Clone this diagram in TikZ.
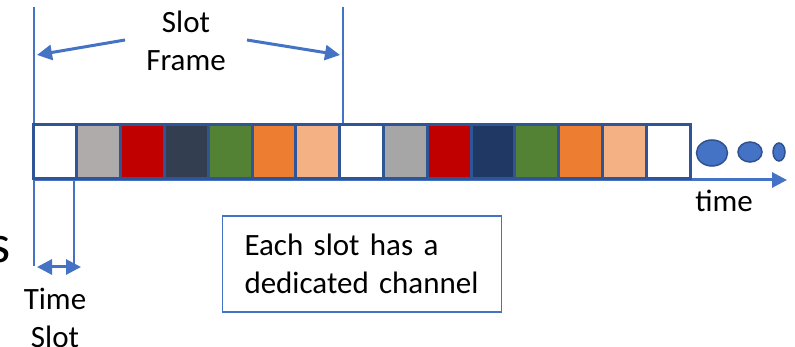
\documentclass[tikz,border=0pt]{standalone}
\usepackage{fontspec}
\setmainfont{Carlito}
\usetikzlibrary{calc, arrows.meta, shapes.geometric}

\definecolor{lineblue}{HTML}{4472C4}
\definecolor{frameblue}{HTML}{2F5597}
\definecolor{dotedge}{HTML}{2F528F}
\definecolor{greyA}{HTML}{AFABAB}
\definecolor{greyB}{HTML}{A6A6A6}
\definecolor{redslot}{HTML}{C00000}
\definecolor{slate}{HTML}{333F50}
\definecolor{navy}{HTML}{1F3864}
\definecolor{greenslot}{HTML}{548235}
\definecolor{orangeslot}{HTML}{ED7D31}
\definecolor{peach}{HTML}{F4B183}

\begin{document}
\begin{tikzpicture}[x=1pt, y=-1pt]
    \tikzstyle{slot} = [rectangle, draw=frameblue, line width=3pt, minimum width=43.8pt, minimum height=54pt, inner sep=0pt]
    \tikzstyle{dot} = [ellipse, draw=dotedge, fill=lineblue, line width=1.5pt, inner sep=0pt]
    \tikzstyle{label} = [font=\fontsize{31}{38}\selectfont, align=center, inner sep=0pt]
    \tikzstyle{guide} = [lineblue, line width=1.5pt]
    \tikzstyle{pointer} = [lineblue, line width=3pt, -{Triangle[length=15pt, width=15pt]}]

    \useasboundingbox (0,0) rectangle (795,347);

    % Guide lines ----------------------------------------
    \coordinate (lt) at (34, 7);
    \coordinate (lb) at (34, 266);
    \coordinate (rt) at (343, 7);
    \coordinate (rb) at (343, 125);
    \coordinate (tt) at (74, 179);
    \coordinate (tb) at (74, 266);
    \draw[guide] (lt) -- (lb);
    \draw[guide] (rt) -- (rb);
    \draw[guide] (tt) -- (tb);

    % Time axis
    \coordinate (t0) at (34, 180);
    \coordinate (t1) at (787, 180);
    \draw[pointer] (t0) -- (t1);

    % Slots ----------------------------------------------
    \foreach \col [count=\i] in {white, greyA, redslot, slate, greenslot, orangeslot, peach,
        white, greyB, redslot, navy, greenslot, orangeslot, peach, white}
        \node (s\i) at ({33 + 43.8*(\i-0.5)}, 152) [slot, fill=\col] {};

    \node (d1) at (712, 153) [dot, minimum width=31pt, minimum height=26pt] {};
    \node (d2) at (750, 152) [dot, minimum width=24pt, minimum height=20pt] {};
    \node (d3) at (779, 152) [dot, minimum width=12pt, minimum height=18pt] {};

    % Labels ---------------------------------------------
    \node (frame) at (186, 41) [label] {Slot\\Frame};
    \coordinate (fl) at (125, 40);
    \coordinate (fr) at (247, 40);
    \coordinate (fltip) at (37, 55);
    \coordinate (frtip) at (340, 55);
    \draw[pointer] (fl) -- (fltip);
    \draw[pointer] (fr) -- (frtip);

    \node (time) at (724, 201) [label] {time};
    \node (cut) at (0, 250) [label, font=\fontsize{54}{60}\selectfont] {s};

    \coordinate (wl) at (37, 267);
    \coordinate (wr) at (81, 267);
    \draw[pointer, {Triangle[length=15pt, width=15pt]}-{Triangle[length=15pt, width=15pt]}] (wl) -- (wr);
    \node (tslot) at (55, 318) [label, text depth=0pt] {Time\\Slot};

    \node (note) at (362, 264) [draw=lineblue, line width=1.5pt, minimum width=279pt, minimum height=96pt,
        text width=235pt, inner xsep=22pt, align=left, font=\fontsize{31}{38}\selectfont] {Each slot has a\\dedicated channel};
\end{tikzpicture}
\end{document}
